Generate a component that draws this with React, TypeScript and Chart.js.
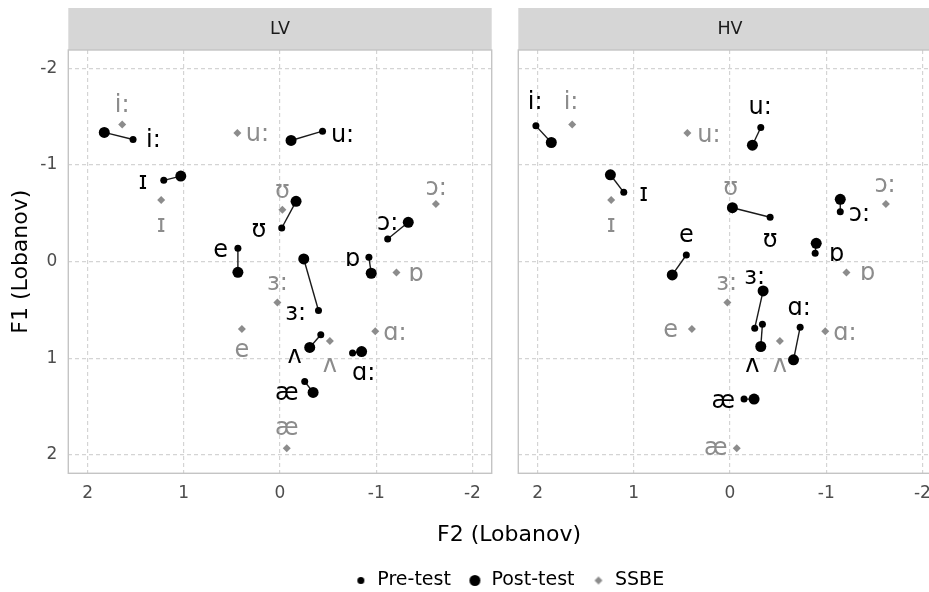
import React, { useEffect, useRef } from 'react';
import { Chart, registerables } from 'chart.js';

Chart.register(...registerables);

const FONT = '"DejaVu Sans", "Noto Sans", sans-serif';

// ---------- data ----------
const panels = ['LV', 'HV'];
const vowels = ['i:', 'ɪ', 'e', 'æ', 'ʌ', 'ɑ:', 'ɒ', 'ɔ:', 'ʊ', 'u:', 'ɜ:'];

// [F2, F1] per vowel (same order as vowels)
const ssbe = [
  [1.64, -1.42], [1.235, -0.637], [0.396, 0.697], [-0.07, 1.93], [-0.518, 0.822],
  [-0.99, 0.72], [-1.21, 0.113], [-1.62, -0.596], [-0.025, -0.537], [0.443, -1.33], [0.027, 0.423],
];
const lvPre = [
  [1.527, -1.264], [1.208, -0.841], [0.4375, -0.138], [-0.257, 1.24], [-0.424, 0.757],
  [-0.754, 0.946], [-0.924, -0.045], [-1.119, -0.234], [-0.018, -0.348], [-0.442, -1.35], [-0.4, 0.506],
];
const lvPost = [
  [1.826, -1.337], [1.031, -0.885], [0.4375, 0.11], [-0.344, 1.353], [-0.309, 0.888],
  [-0.848, 0.93], [-0.948, 0.12], [-1.333, -0.407], [-0.167, -0.624], [-0.115, -1.254], [-0.247, -0.028],
];
const hvPre = [
  [2.017, -1.405], [1.104, -0.717], [0.454, -0.069], [-0.146, 1.422], [-0.337, 0.647],
  [-0.729, 0.678], [-0.885, -0.087], [-1.146, -0.517], [-0.417, -0.459], [-0.32, -1.388], [-0.257, 0.688],
];
const hvPost = [
  [1.857, -1.233], [1.243, -0.899], [0.6, 0.137], [-0.25, 1.422], [-0.32, 0.878],
  [-0.66, 1.016], [-0.896, -0.19], [-1.146, -0.645], [-0.025, -0.558], [-0.233, -1.205], [-0.344, 0.303],
];
// text label anchors [F2, F1]
const lvLearnerLabelAt = [
  [1.316, -1.257], [1.423, -0.826], [0.618, -0.121], [-0.07, 1.36], [-0.153, 0.974],
  [-0.869, 1.147], [-0.754, -0.035], [-1.119, -0.407], [0.219, -0.327], [-0.65, -1.316], [-0.164, 0.533],
];
const lvSsbeLabelAt = [
  [1.64, -1.62], [1.235, -0.386], [0.396, 0.912], [-0.07, 1.72], [-0.518, 1.067],
  [-1.195, 0.733], [-1.414, 0.13], [-1.622, -0.769], [-0.025, -0.733], [0.235, -1.326], [0.027, 0.223],
];
const hvLearnerLabelAt = [
  [2.024, -1.653], [0.896, -0.707], [0.454, -0.276], [0.069, 1.436], [-0.233, 1.067],
  [-0.719, 0.482], [-1.108, -0.08], [-1.344, -0.5], [-0.417, -0.224], [-0.313, -1.601], [-0.257, 0.155],
];
const hvSsbeLabelAt = [
  [1.652, -1.653], [1.235, -0.386], [0.618, 0.706], [0.149, 1.928], [-0.518, 1.067],
  [-1.195, 0.733], [-1.43, 0.12], [-1.611, -0.792], [-0.007, -0.764], [0.219, -1.316], [0.034, 0.223],
];

const tickValues = [-2, -1, 0, 1, 2];
const f2Range = [-2.2, 2.2];
const f1Range = [-2.19, 2.19];
const legendLabels = ['Pre-test', 'Post-test', 'SSBE'];
const xTitle = 'F2 (Lobanov)';
const yTitle = 'F1 (Lobanov)';

// ---------- styles ----------
const BLACK = '#000000';
const GREY = '#8c8c8c';
const GRID = '#d4d4d4';
const STRIP = '#d6d6d6';
const BORDER = '#c4c4c4';
const R_PRE = 3.5;
const R_POST = 5.5;
const R_SSBE = 4;

const toPts = (arr: number[][]) => arr.map(([x, y]) => ({ x, y }));

function panelConfig(
  title: string,
  pre: number[][],
  post: number[][],
  learnerLabels: number[][],
  ssbeLabels: number[][],
  showY: boolean,
  padding: any,
  yWidth: number,
  xHeight: number
): any {
  const segs = vowels.map((v, i) => ({
    type: 'line',
    label: 'seg-' + v,
    data: [{ x: pre[i][0], y: pre[i][1] }, { x: post[i][0], y: post[i][1] }],
    showLine: true,
    borderColor: '#1a1a1a',
    borderWidth: 1.4,
    pointRadius: 0,
    fill: false,
  }));
  const datasets = [
    { label: 'Post-test', data: toPts(post), pointRadius: R_POST, backgroundColor: BLACK, borderWidth: 0, pointStyle: 'circle' },
    { label: 'Pre-test', data: toPts(pre), pointRadius: R_PRE, backgroundColor: BLACK, borderWidth: 0, pointStyle: 'circle' },
    { label: 'SSBE', data: toPts(ssbe), pointRadius: R_SSBE, backgroundColor: GREY, borderWidth: 0, pointStyle: 'rectRot' },
    ...segs,
  ];

  const stripPlugin = {
    id: 'strip',
    beforeDraw(chart: any) {
      const { ctx, chartArea } = chart;
      const tb = chart.titleBlock;
      ctx.save();
      ctx.fillStyle = STRIP;
      ctx.fillRect(chartArea.left, tb.top, chartArea.right - chartArea.left, chartArea.top - tb.top);
      ctx.restore();
    },
    beforeDatasetsDraw(chart: any) {
      const { ctx, chartArea } = chart;
      ctx.save();
      ctx.strokeStyle = BORDER;
      ctx.lineWidth = 1.4;
      ctx.strokeRect(chartArea.left, chartArea.top, chartArea.right - chartArea.left, chartArea.bottom - chartArea.top);
      ctx.restore();
    },
    afterDatasetsDraw(chart: any) {
      const { ctx } = chart;
      const xs = chart.scales.x;
      const ys = chart.scales.y;
      ctx.save();
      ctx.font = '24px ' + FONT;
      ctx.textAlign = 'center';
      ctx.textBaseline = 'middle';
      vowels.forEach((v, i) => {
        ctx.fillStyle = GREY;
        ctx.fillText(v, xs.getPixelForValue(ssbeLabels[i][0]), ys.getPixelForValue(ssbeLabels[i][1]) + 1);
        ctx.fillStyle = BLACK;
        ctx.fillText(v, xs.getPixelForValue(learnerLabels[i][0]), ys.getPixelForValue(learnerLabels[i][1]) + 1);
      });
      ctx.restore();
    },
  };

  return {
    type: 'scatter',
    data: { datasets },
    plugins: [stripPlugin],
    options: {
      animation: false,
      responsive: false,
      events: [],
      layout: { padding },
      plugins: {
        legend: { display: false },
        tooltip: { enabled: false },
        title: {
          display: true,
          text: title,
          fullSize: false,
          color: '#1a1a1a',
          font: { family: FONT, size: 17.5, weight: 'normal', lineHeight: 1.2 },
          padding: { top: 10.5, bottom: 10.5 },
        },
      },
      scales: {
        x: {
          type: 'linear',
          position: 'bottom',
          reverse: true,
          min: f2Range[0],
          max: f2Range[1],
          afterBuildTicks: (s: any) => { s.ticks = tickValues.map((v) => ({ value: v })); },
          afterFit: (s: any) => { s.height = xHeight; },
          grid: { color: GRID, lineWidth: 1.2, drawTicks: false },
          border: { display: false, dash: [4, 3] },
          ticks: {
            color: '#4d4d4d',
            padding: 10.5,
            font: { family: FONT, size: 17, lineHeight: 1.2 },
            maxRotation: 0,
            callback: (v: any) => String(v),
          },
        },
        y: {
          type: 'linear',
          position: 'left',
          reverse: true,
          min: f1Range[0],
          max: f1Range[1],
          afterBuildTicks: (s: any) => { s.ticks = tickValues.map((v) => ({ value: v })); },
          afterFit: (s: any) => { s.width = yWidth; },
          grid: { color: GRID, lineWidth: 1.2, drawTicks: false },
          border: { display: false, dash: [4, 3] },
          title: {
            display: showY,
            text: yTitle,
            color: '#000000',
            font: { family: FONT, size: 22, lineHeight: 1.2 },
            padding: { top: 7.8, bottom: 0 },
          },
          ticks: {
            display: showY,
            color: '#4d4d4d',
            padding: 11,
            font: { family: FONT, size: 17, lineHeight: 1.2 },
            callback: (v: any) => String(v),
          },
        },
      },
    },
  };
}

function makeSymbol(kind: string, r: number, color: string) {
  const c = document.createElement('canvas');
  const s = Math.ceil(r * 2 + 2);
  c.width = s;
  c.height = s;
  const g = c.getContext('2d') as CanvasRenderingContext2D;
  g.fillStyle = color;
  g.beginPath();
  if (kind === 'diamond') {
    g.moveTo(s / 2, s / 2 - r);
    g.lineTo(s / 2 + r, s / 2);
    g.lineTo(s / 2, s / 2 + r);
    g.lineTo(s / 2 - r, s / 2);
    g.closePath();
  } else {
    g.arc(s / 2, s / 2, r, 0, Math.PI * 2);
  }
  g.fill();
  return c;
}

function legendConfig(): any {
  const symbols = [
    makeSymbol('dot', R_PRE, BLACK),
    makeSymbol('dot', R_POST, BLACK),
    makeSymbol('diamond', R_SSBE, GREY),
  ];
  return {
    type: 'scatter',
    data: {
      datasets: legendLabels.map((l, i) => ({
        label: l,
        data: [],
        backgroundColor: i === 2 ? GREY : BLACK,
      })),
    },
    options: {
      animation: false,
      responsive: false,
      events: [],
      layout: { padding: 0 },
      scales: { x: { display: false }, y: { display: false } },
      plugins: {
        tooltip: { enabled: false },
        title: {
          display: true,
          text: xTitle,
          color: '#000000',
          font: { family: FONT, size: 22, weight: 'normal', lineHeight: 1.2 },
          padding: { top: 22.5, bottom: 0 },
        },
        legend: {
          display: true,
          position: 'bottom',
          labels: {
            usePointStyle: true,
            boxWidth: 14,
            padding: 17,
            color: '#000000',
            font: { family: FONT, size: 19 },
            generateLabels: () =>
              legendLabels.map((l, i) => ({
                text: l,
                pointStyle: symbols[i],
                fillStyle: i === 2 ? GREY : BLACK,
                strokeStyle: 'transparent',
                lineWidth: 0,
                hidden: false,
                datasetIndex: i,
                fontColor: '#000000',
              })),
          },
        },
      },
    },
  };
}

export default function App() {
  const aRef = useRef<HTMLCanvasElement>(null);
  const bRef = useRef<HTMLCanvasElement>(null);
  const cRef = useRef<HTMLCanvasElement>(null);

  useEffect(() => {
    const charts: Chart[] = [];
    if (aRef.current) {
      charts.push(new Chart(aRef.current, panelConfig(panels[0], lvPre, lvPost, lvLearnerLabelAt, lvSsbeLabelAt, true,
        { left: 0, top: 8, right: 8.3, bottom: 0 }, 68.3, 36.7)));
    }
    if (bRef.current) {
      charts.push(new Chart(bRef.current, panelConfig(panels[1], hvPre, hvPost, hvLearnerLabelAt, hvSsbeLabelAt, false,
        { left: 8.3, top: 8, right: 10.3, bottom: 0 }, 0, 36.7)));
    }
    if (cRef.current) {
      charts.push(new Chart(cRef.current, legendConfig()));
    }
    return () => charts.forEach((c) => c.destroy());
  }, []);

  return (
    <div style={{ position: 'fixed', left: 0, top: 0, width: 929, height: 592, overflow: 'hidden', background: '#ffffff' }}>
      <canvas ref={aRef} width={500} height={510} style={{ position: 'absolute', left: 0, top: 0, width: 500, height: 510 }} />
      <canvas ref={bRef} width={442} height={510} style={{ position: 'absolute', left: 510, top: 0, width: 442, height: 510 }} />
      <canvas ref={cRef} width={1018} height={100} style={{ position: 'absolute', left: 0, top: 500, width: 1018, height: 100 }} />
    </div>
  );
}
